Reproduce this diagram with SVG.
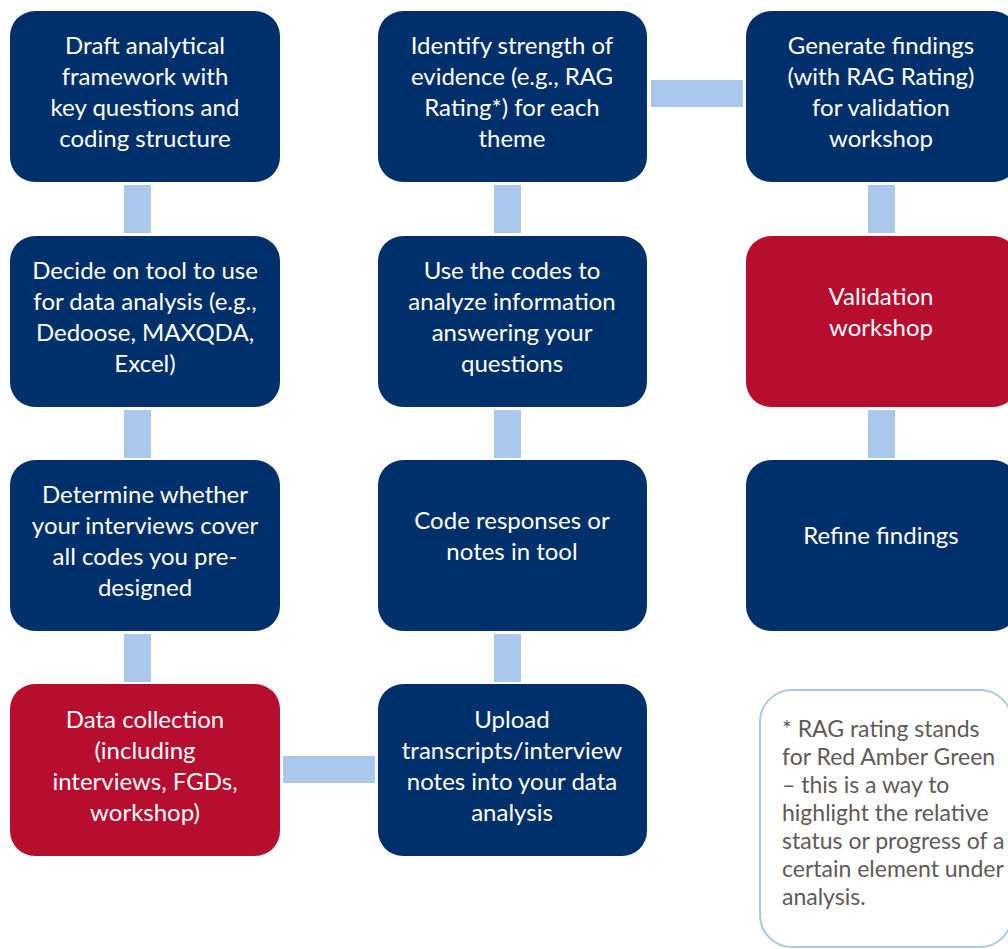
<svg xmlns="http://www.w3.org/2000/svg" width="1008" height="949" viewBox="0 0 1008 949">
<style>
.navy{fill:#00306b}
.red{fill:#b70e2f}
.conn{fill:#a9c8ec}
.t{font-family:Lato,"Liberation Sans",sans-serif;font-size:24px;fill:#ffffff;text-anchor:middle}
.n{font-family:Lato,"Liberation Sans",sans-serif;font-size:23px;fill:#5f5a58}
</style>
<rect width="1008" height="949" fill="#ffffff"/>
<g id="connectors">
<rect class="conn" x="124" y="185" width="27" height="48"/>
<rect class="conn" x="124" y="410" width="27" height="48"/>
<rect class="conn" x="124" y="634" width="27" height="48"/>
<rect class="conn" x="283" y="756" width="92" height="27"/>
<rect class="conn" x="494" y="634" width="27" height="48"/>
<rect class="conn" x="494" y="410" width="27" height="48"/>
<rect class="conn" x="494" y="185" width="27" height="48"/>
<rect class="conn" x="651" y="80" width="92" height="27"/>
<rect class="conn" x="868" y="185" width="27" height="48"/>
<rect class="conn" x="868" y="410" width="27" height="48"/>
</g>
<g id="n1"><rect class="navy" x="10" y="11" width="270" height="171" rx="25"/>
<text class="t"><tspan x="145" y="54">Draft analytical</tspan><tspan x="145" y="85">framework with</tspan><tspan x="145" y="116">key questions and</tspan><tspan x="145" y="147">coding structure</tspan></text></g>
<g id="n2"><rect class="navy" x="10" y="236" width="270" height="171" rx="25"/>
<text class="t"><tspan x="145" y="279">Decide on tool to use</tspan><tspan x="145" y="310">for data analysis (e.g.,</tspan><tspan x="145" y="341">Dedoose, MAXQDA,</tspan><tspan x="145" y="372">Excel)</tspan></text></g>
<g id="n3"><rect class="navy" x="10" y="460" width="270" height="171" rx="25"/>
<text class="t"><tspan x="145" y="503">Determine whether</tspan><tspan x="145" y="534">your interviews cover</tspan><tspan x="145" y="565">all codes you pre-</tspan><tspan x="145" y="596">designed</tspan></text></g>
<g id="n4"><rect class="red" x="10" y="684" width="270" height="172" rx="25"/>
<text class="t"><tspan x="145" y="728">Data collection</tspan><tspan x="145" y="759">(including</tspan><tspan x="145" y="790">interviews, FGDs,</tspan><tspan x="145" y="821">workshop)</tspan></text></g>
<g id="n5"><rect class="navy" x="378" y="684" width="269" height="172" rx="25"/>
<text class="t"><tspan x="512" y="728">Upload</tspan><tspan x="512" y="759">transcripts/interview</tspan><tspan x="512" y="790">notes into your data</tspan><tspan x="512" y="821">analysis</tspan></text></g>
<g id="n6"><rect class="navy" x="378" y="460" width="269" height="171" rx="25"/>
<text class="t"><tspan x="512" y="529">Code responses or</tspan><tspan x="512" y="560">notes in tool</tspan></text></g>
<g id="n7"><rect class="navy" x="378" y="236" width="269" height="171" rx="25"/>
<text class="t"><tspan x="512" y="279">Use the codes to</tspan><tspan x="512" y="310">analyze information</tspan><tspan x="512" y="341">answering your</tspan><tspan x="512" y="372">questions</tspan></text></g>
<g id="n8"><rect class="navy" x="378" y="11" width="269" height="171" rx="25"/>
<text class="t"><tspan x="512" y="54">Identify strength of</tspan><tspan x="512" y="85">evidence (e.g., RAG</tspan><tspan x="512" y="116">Rating*) for each</tspan><tspan x="512" y="147">theme</tspan></text></g>
<g id="n9"><rect class="navy" x="746" y="11" width="272" height="171" rx="25"/>
<text class="t"><tspan x="881" y="54">Generate findings</tspan><tspan x="881" y="85">(with RAG Rating)</tspan><tspan x="881" y="116">for validation</tspan><tspan x="881" y="147">workshop</tspan></text></g>
<g id="n10"><rect class="red" x="746" y="236" width="272" height="171" rx="25"/>
<text class="t"><tspan x="881" y="305">Validation</tspan><tspan x="881" y="336">workshop</tspan></text></g>
<g id="n11"><rect class="navy" x="746" y="460" width="272" height="171" rx="25"/>
<text class="t"><tspan x="881" y="544">Refine findings</tspan></text></g>
<g id="note"><rect x="760" y="690" width="252" height="257" rx="32" fill="#ffffff" stroke="#a9c8ec" stroke-width="2"/>
<text class="n"><tspan x="782" y="737">* RAG rating stands</tspan><tspan x="782" y="765">for Red Amber Green</tspan><tspan x="782" y="793">– this is a way to</tspan><tspan x="782" y="821">highlight the relative</tspan><tspan x="782" y="849">status or progress of a</tspan><tspan x="782" y="877">certain element under</tspan><tspan x="782" y="905">analysis.</tspan></text></g>
</svg>
